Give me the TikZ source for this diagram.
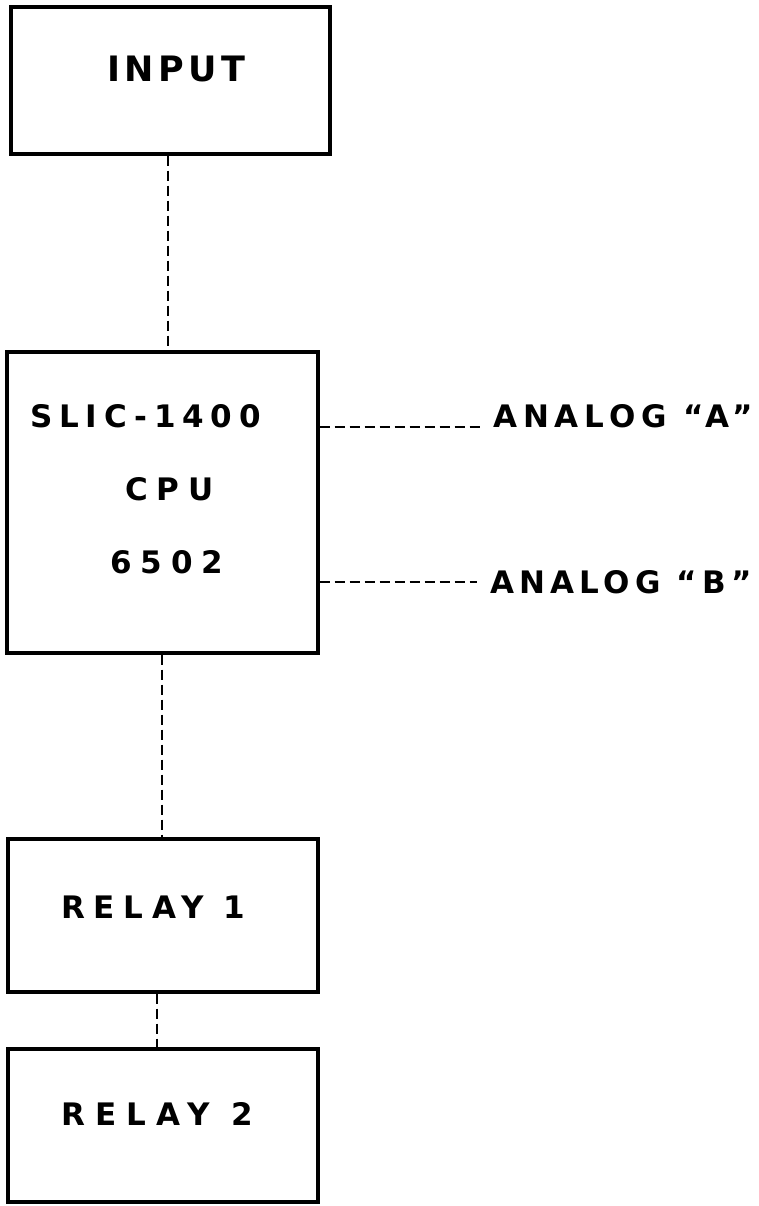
\documentclass[tikz,border=0pt]{standalone}
\usepackage{fontspec}
\newfontfamily\lett{DejaVu Sans}
\begin{document}
\begin{tikzpicture}[x=1pt,y=-1pt,
  blk/.style={draw, line width=3.4pt, inner sep=0pt},
  lbl/.style={font=\lett\bfseries\fontsize{31}{31}\selectfont\addfontfeature{LetterSpace=#1}, inner sep=0pt, anchor=base west},
  biglbl/.style={inner sep=0pt, anchor=base west, font=\lett\bfseries\fontsize{35}{35}\selectfont\addfontfeature{LetterSpace=#1}},
  conn/.style={line width=2pt, dash pattern=on 10pt off 5pt}]
\useasboundingbox (0,0) rectangle (759,1206);
% boxes
\node[blk, minimum width=319pt, minimum height=147pt] (input) at (170.5,80.5) {};
\node[blk, minimum width=311pt, minimum height=301pt] (cpu) at (162.5,502.5) {};
\node[blk, minimum width=310pt, minimum height=153pt] (relay1) at (163,915.5) {};
\node[blk, minimum width=310pt, minimum height=153pt] (relay2) at (163,1125.5) {};
% texts
\node[biglbl=13] (tinput) at (107,82) {INPUT};
\node[lbl=22] (tslic) at (30,427) {SLIC-1400};
\node[lbl=28] (tcpu) at (125,500) {CPU};
\node[lbl=29] (t6502) at (110,573) {6502};
\node[lbl=19] (anA) at (493,427) {ANALOG “A”};
\node[lbl=17] (anB) at (490,593) {ANALOG “B”};
\node[lbl=28] (trelay1) at (61,918) {RELAY 1};
\node[lbl=33] (trelay2) at (61,1125) {RELAY 2};
% connectors
\draw[conn] (input.south -| 168,0) -- (cpu.north -| 168,0);
\draw[conn] (cpu.south -| 162,0) -- (relay1.north -| 162,0);
\draw[conn] (relay1.south -| 157,0) -- (relay2.north -| 157,0);
\coordinate (endA) at ([xshift=-13pt]anA.base west);
\coordinate (endB) at ([xshift=-13pt]anB.west);
\draw[conn] (cpu.east |- endA) -- (endA);
\draw[conn] (cpu.east |- endB) -- (endB);
\end{tikzpicture}
\end{document}
